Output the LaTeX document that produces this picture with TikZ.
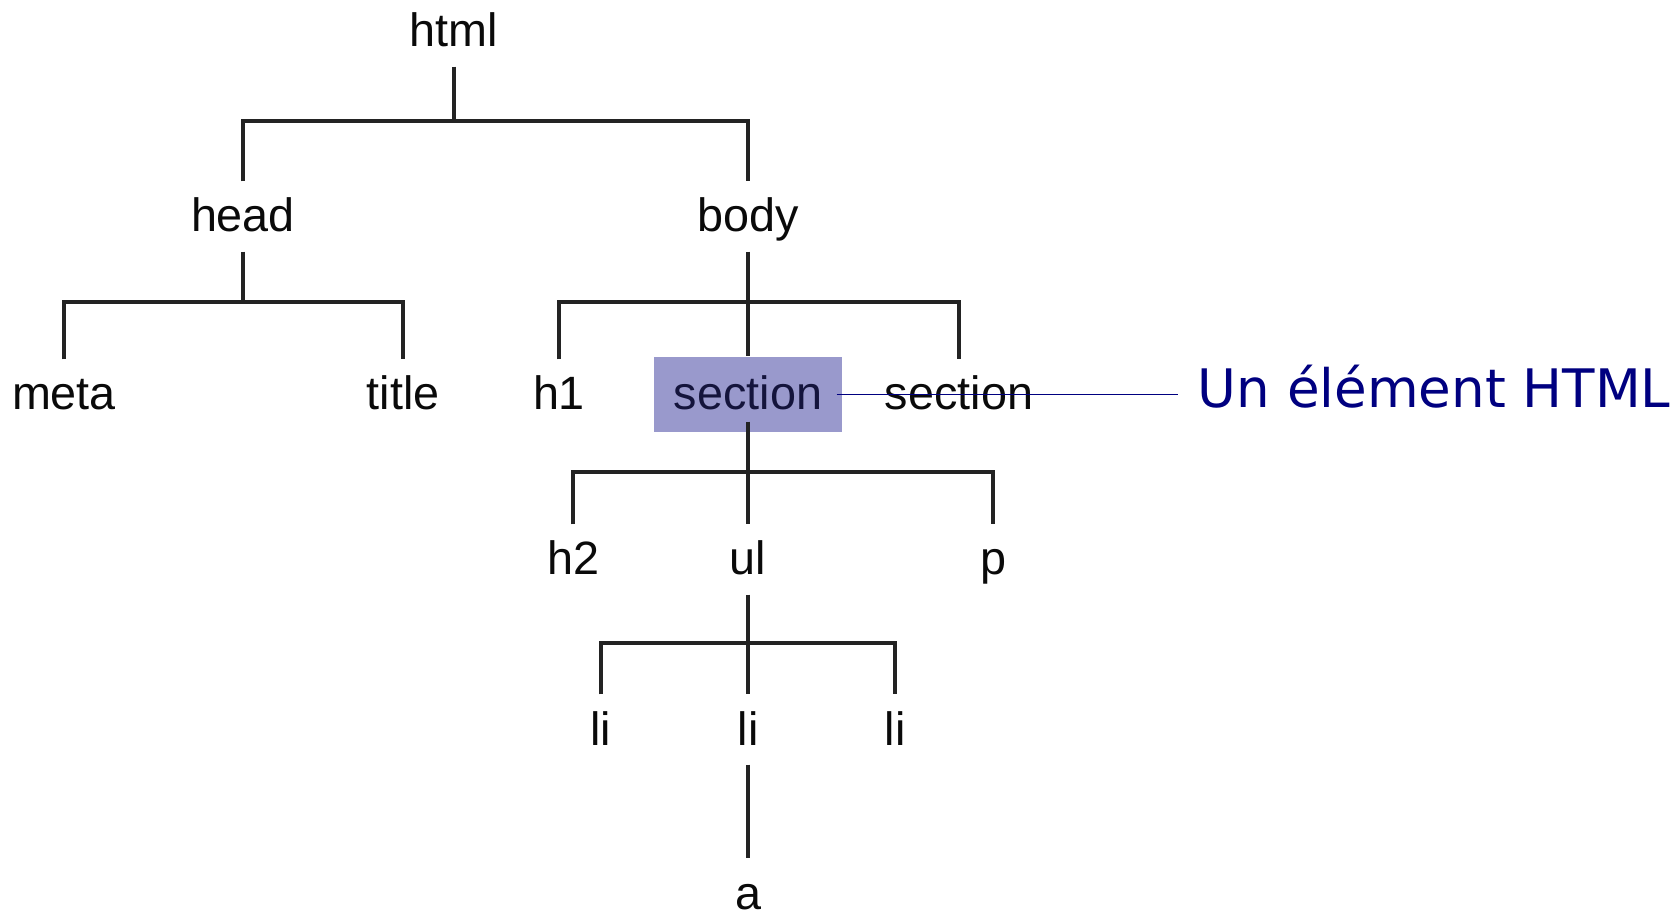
\documentclass[tikz,border=0pt]{standalone}
\usepackage{fontspec}
\setmainfont{Liberation Sans}
\newfontfamily\notefont{DejaVu Sans}
\usepackage{xcolor}
\usepackage{tikz}
\usetikzlibrary{positioning}
\definecolor{treeline}{RGB}{35, 35, 35}
\definecolor{tagtext}{RGB}{10, 10, 10}
\definecolor{highlight}{RGB}{153, 153, 204}
\definecolor{sectext}{RGB}{20, 20, 60}
\definecolor{notecolor}{RGB}{0, 0, 128}

\tikzset{
    tag/.style={font=\fontsize{13.3}{16}\selectfont, text=tagtext, anchor=base, text height=0.35cm, text depth=0.04cm, inner xsep=0.05cm, inner ysep=0.15cm},
    branch/.style={draw=treeline, line width=0.95pt}
}

\begin{document}
\begin{tikzpicture}
    \useasboundingbox (0,0) rectangle (16.8,9.12);

    % Root and first level
    \node[tag] (html) at (4.54, 8.65) {html};
    \node[tag] (head) at (2.43, 6.80) {head};
    \node[tag] (body) at (7.48, 6.80) {body};

    % Children of head
    \node[tag] (meta) at (0.64, 5.02) {meta};
    \node[tag] (title) at (4.03, 5.02) {title};

    % Children of body
    \node[tag] (h1) at (5.59, 5.02) {h1};
    \node[font=\fontsize{13.3}{16}\selectfont, text=sectext, fill=highlight, text height=0.35cm, text depth=0.04cm, minimum width=1.88cm, minimum height=0.75cm] (sec) at (7.48, 5.175) {section};
    \node[tag] (secb) at (9.59, 5.02) {section};

    % Children of section
    \node[tag] (h2) at (5.73, 3.37) {h2};
    \node[tag] (ul) at (7.48, 3.37) {ul};
    \node[tag] (p) at (9.93, 3.37) {p};

    % List items
    \node[tag] (li1) at (6.01, 1.67) {li};
    \node[tag] (li2) at (7.48, 1.67) {li};
    \node[tag] (li3) at (8.95, 1.67) {li};
    \node[tag] (a) at (7.48, 0.03) {a};

    % Bar points
    \coordinate (bar1) at (4.54, 7.91);
    \coordinate (bar2) at (2.43, 6.10);
    \coordinate (bar3) at (7.48, 6.10);
    \coordinate (bar4) at (7.48, 4.40);
    \coordinate (bar5) at (7.48, 2.69);

    % Connections
    \draw[branch] (html.south) -- (bar1);
    \draw[branch] (head.north) |- (bar1) -| (body.north);
    \draw[branch] (head.south) -- (bar2);
    \draw[branch] (meta.north) |- (bar2) -| (title.north);
    \draw[branch] (body.south) -- (sec.north);
    \draw[branch] (h1.north) |- (bar3) -| (secb.north);
    \draw[branch] (sec.south) ++(0,0.11) -- (bar4) -- (ul.north);
    \draw[branch] (h2.north) |- (bar4) -| (p.north);
    \draw[branch] (ul.south) -- (bar5) -- (li2.north);
    \draw[branch] (li1.north) |- (bar5) -| (li3.north);
    \draw[branch] (li2.south) -- (a.north);

    % Note
    \node[font=\notefont\fontsize{15.1}{18}\selectfont, text=notecolor, anchor=base west, inner xsep=0.19cm] (note) at (11.78, 5.04) {Un élément HTML};
    \draw[notecolor, line width=0.45pt] (sec.east) ++(-0.06,0) -- (sec.east -| note.west);

\end{tikzpicture}
\end{document}
